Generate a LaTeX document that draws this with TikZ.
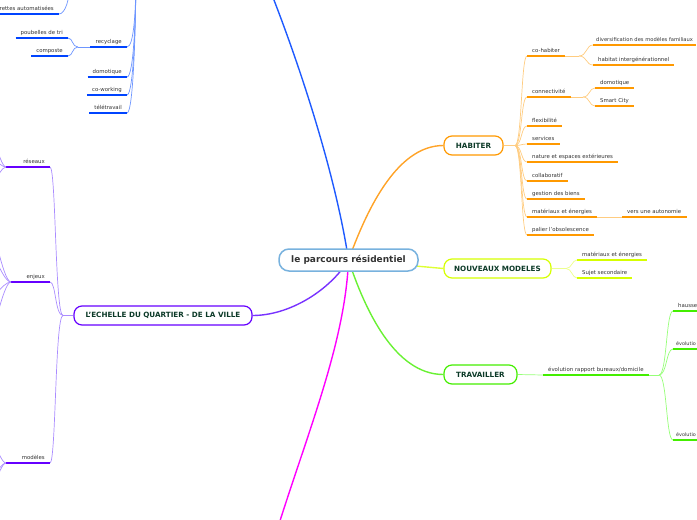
\documentclass[tikz,border=0pt]{standalone}
\usepackage{fontspec}
\setmainfont{DejaVu Sans}
\usepackage{tikz}
\usetikzlibrary{backgrounds}
\definecolor{skyline}{RGB}{120,178,222}
\definecolor{inkgrey}{RGB}{51,51,51}
\definecolor{pine}{RGB}{12,58,40}
\definecolor{orangeul}{RGB}{255,153,0}
\definecolor{orangetw}{RGB}{255,204,128}
\definecolor{orangetr}{RGB}{255,163,40}
\definecolor{limeul}{RGB}{214,255,0}
\definecolor{limetw}{RGB}{236,255,140}
\definecolor{greenul}{RGB}{68,238,0}
\definecolor{greentw}{RGB}{150,255,120}
\definecolor{violetul}{RGB}{102,0,255}
\definecolor{violettw}{RGB}{170,140,255}
\definecolor{violettr}{RGB}{120,50,255}
\definecolor{blueul}{RGB}{0,68,255}
\definecolor{bluetw}{RGB}{110,150,255}
\definecolor{bluetr}{RGB}{30,90,255}
\definecolor{pinktr}{RGB}{255,0,255}

\begin{document}
\begin{tikzpicture}[
  x=1pt, y=-1pt,
  root/.style={draw=skyline, line width=1.5pt, fill=white, rounded corners=10pt,
               minimum width=139pt, minimum height=22pt,
               font=\fontsize{9}{10}\selectfont\bfseries, text=inkgrey},
  topic/.style={draw=#1, line width=1.2pt, fill=white, rounded corners=8pt,
                minimum height=19pt, font=\fontsize{7.2}{8}\selectfont\bfseries, text=pine},
  leaf/.style={font=\fontsize{5.4}{6.5}\selectfont, text=inkgrey, inner xsep=5pt, inner ysep=2pt,
               text height=4.3pt, text depth=1pt,
               append after command={(\tikzlastnode.south west) edge[line width=1.4pt, draw=#1] (\tikzlastnode.south east)}},
  rleaf/.style={leaf=#1, anchor=south west},
  lleaf/.style={leaf=#1, anchor=south east},
  trunk/.style={draw=#1, line width=1.4pt},
  twig/.style={draw=#1, line width=0.7pt},
  ulink/.style={draw=#1, line width=1.4pt}
]
\useasboundingbox (0,0) rectangle (697,520);
\clip (0,0) rectangle (697,520);

\node[root] (main) at (348.5,260) {le parcours résidentiel};
\node[topic=orangeul, minimum width=59pt] (hab) at (473.5,145.5) {HABITER};
\node[topic=limeul, minimum width=107pt] (nm) at (497.5,268.5) {NOUVEAUX MODELES};
\node[topic=greenul, minimum width=73pt] (trav) at (480.5,374.5) {TRAVAILLER};
\node[topic=violetul, minimum width=178pt] (ech) at (163,315.5) {L'ECHELLE DU QUARTIER - DE LA VILLE};

% habiter
\node[rleaf=orangeul] (cohab) at (527,56) {co-habiter};
\node[rleaf=orangeul, inner xsep=3pt, font=\fontsize{5.2}{6.5}\selectfont] (divers) at (593,45) {diversification des modèles familiaux};
\node[rleaf=orangeul] (interg) at (593,65) {habitat intergénérationnel};
\node[rleaf=orangeul] (conn) at (527,97) {connectivité};
\node[rleaf=orangeul] (domo) at (595,88) {domotique};
\node[rleaf=orangeul] (smart) at (595,106) {Smart City};
\node[rleaf=orangeul] (flex) at (527,126) {flexibilité};
\node[rleaf=orangeul] (serv) at (527,144) {services};
\node[rleaf=orangeul] (nat) at (527,162) {nature et espaces extérieures};
\node[rleaf=orangeul] (collab) at (527,181) {collaboratif};
\node[rleaf=orangeul] (gest) at (527,199) {gestion des biens};
\node[rleaf=orangeul] (mat) at (527,217) {matériaux et énergies};
\node[rleaf=orangeul] (auto) at (622,217) {vers une autonomie};
\node[rleaf=orangeul] (palier) at (527,235) {palier l'obsolescence};

% nouveaux modeles
\node[rleaf=limeul] (matnm) at (577,260) {matériaux et énergies};
\node[rleaf=limeul] (sujet) at (577,278) {Sujet secondaire};

% travailler
\node[rleaf=greenul] (evol) at (543,375) {évolution rapport bureaux/domicile};
\node[rleaf=greenul] (hausse) at (673,311) {hausse};
\node[rleaf=greenul, inner xsep=3pt, font=\fontsize{4.9}{6}\selectfont] (evola) at (673,349) {évolutio};
\node[rleaf=greenul, inner xsep=3pt, font=\fontsize{4.9}{6}\selectfont] (evolb) at (673,440) {évolutio};

% quartier / ville
\node[lleaf=violetul] (res) at (50,167) {réseaux};
\node[lleaf=violetul] (enj) at (50,282) {enjeux};
\node[lleaf=violetul] (mod) at (50,463) {modèles};

% blue branch
\node[lleaf=blueul] (autom) at (59,14) {rettes automatisées};
\node[lleaf=blueul] (recy) at (127,47) {recyclage};
\node[lleaf=blueul] (poub) at (68,38) {poubelles de tri};
\node[lleaf=blueul] (comp) at (68,56) {composte};
\node[lleaf=blueul] (domob) at (127,77) {domotique};
\node[lleaf=blueul] (cowork) at (127,95) {co-working};
\node[lleaf=blueul] (tele) at (127,113) {télétravail};

\coordinate (bluehub) at (262,-30);
\coordinate (pinkhub) at (268,560);
\coordinate (bluesub) at (136,-30);
\coordinate (autohub) at (70,-20);
\coordinate (habj) at (515,145.5);
\coordinate (cohj) at (579,56);
\coordinate (conj) at (583,97);
\coordinate (nmj) at (566,268.5);
\coordinate (evj) at (659,375);
\coordinate (echj) at (63,315.5);
\coordinate (resj) at (6,167);
\coordinate (enjj) at (11,282);
\coordinate (modj) at (6,463);
\coordinate (recj) at (78,47);

\begin{scope}[on background layer]
  \draw[trunk=bluetr] (main.center) .. controls (335,170) and (295,50) .. (bluehub);
  \draw[trunk=pinktr] (main.center) .. controls (345,350) and (300,450) .. (pinkhub);
  \draw[trunk=orangetr] (main.center) .. controls (365,215) and (395,145.5) .. (hab.west);
  \draw[trunk=greenul!80!white] (main.center) .. controls (365,310) and (395,374.5) .. (trav.west);
  \draw[trunk=limeul!80!white] (main.center) -- (nm.west);
  \draw[trunk=violettr] (main.center) .. controls (330,290) and (290,315.5) .. (ech.east);

  \draw[twig=orangetw] (hab.east) -- (habj);
  \foreach \n in {cohab,conn,flex,serv,nat,collab,gest,mat,palier}
    \draw[twig=orangetw] (habj) .. controls +(7,0) and +(-6,0) .. (\n.south west);
  \draw[twig=orangetw] (cohab.south east) -- (cohj);
  \foreach \n in {divers,interg}
    \draw[twig=orangetw] (cohj) .. controls +(8,0) and +(-7,0) .. (\n.south west);
  \draw[twig=orangetw] (conn.south east) -- (conj);
  \foreach \n in {domo,smart}
    \draw[twig=orangetw] (conj) .. controls +(7,0) and +(-6,0) .. (\n.south west);
  \draw[twig=orangetw] (mat.south east) -- (auto.south west);

  \draw[twig=limetw] (nm.east) -- (nmj);
  \foreach \n in {matnm,sujet}
    \draw[twig=limetw] (nmj) .. controls +(6,0) and +(-5,0) .. (\n.south west);

  \draw[twig=greentw] (trav.east) -- (evol.south west);
  \draw[twig=greentw] (evol.south east) -- (evj);
  \foreach \n in {hausse,evola,evolb}
    \draw[twig=greentw] (evj) .. controls +(8,0) and +(-7,0) .. (\n.south west);

  \draw[twig=violettw] (ech.west) -- (echj);
  \foreach \n in {res,enj,mod}
    \draw[twig=violettw] (echj) .. controls +(-8,0) and +(6,0) .. (\n.south east);
  \draw[ulink=violetul] (res.south west) -- (resj);
  \draw[ulink=violetul] (enj.south west) -- (enjj);
  \draw[ulink=violetul] (mod.south west) -- (modj);
  \foreach \y [count=\i] in {110,150,200} {
    \coordinate (resk\i) at (-16,\y);
    \draw[twig=violettw] (resj) .. controls +(-7,0) and +(4,0) .. (resk\i);
  }
  \foreach \y [count=\i] in {205,240,305,355} {
    \coordinate (enjk\i) at (-16,\y);
    \draw[twig=violettw] (enjj) .. controls +(-9,0) and +(6,0) .. (enjk\i);
  }
  \foreach \y [count=\i] in {420,490,510} {
    \coordinate (modk\i) at (-16,\y);
    \draw[twig=violettw] (modj) .. controls +(-7,0) and +(4,0) .. (modk\i);
  }

  \foreach \n in {recy,domob,cowork,tele}
    \draw[twig=bluetw] (\n.south east) .. controls +(7,0) and +(0,40) .. (bluesub);
  \draw[twig=bluetw] (autom.south east) .. controls +(6,0) and +(0,20) .. (autohub);
  \draw[twig=bluetw] (recy.south west) -- (recj);
  \foreach \n in {poub,comp}
    \draw[twig=bluetw] (recj) .. controls +(-6,0) and +(5,0) .. (\n.south east);
\end{scope}
\end{tikzpicture}
\end{document}
